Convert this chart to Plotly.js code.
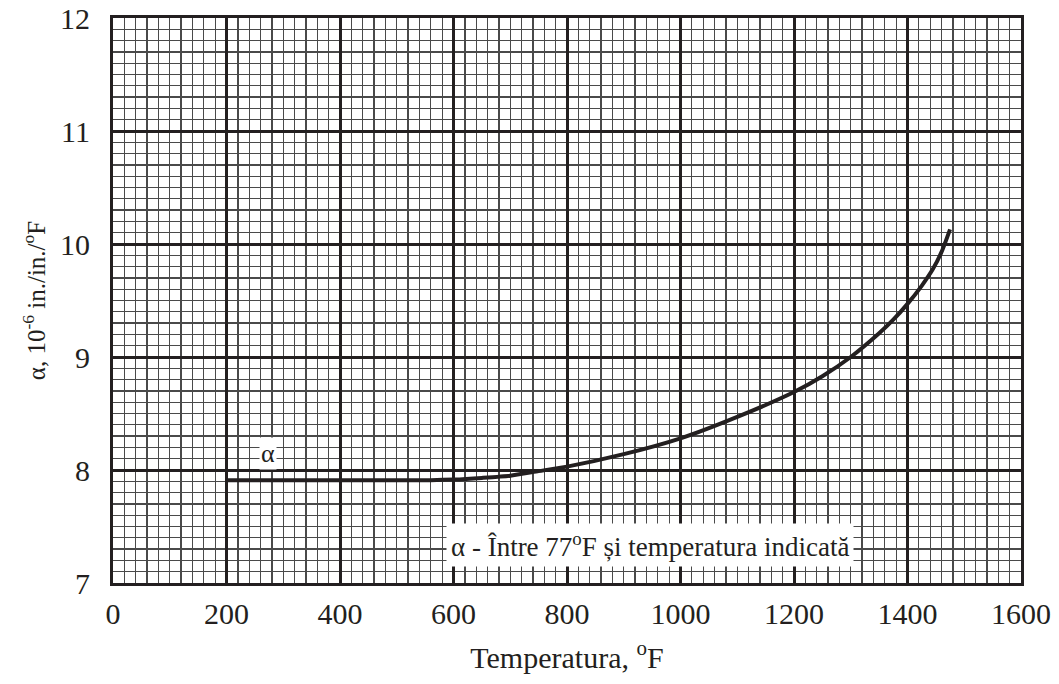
<!DOCTYPE html>
<html>
<head>
<meta charset="utf-8">
<script src="https://cdn.plot.ly/plotly-3.0.1.min.js"></script>
<style>html,body{margin:0;padding:0;background:#fff;}#chart{width:1059px;height:684px;}</style>
</head>
<body>
<div id="chart"></div>
<script>
// Temperature (°F) and mean coefficient of thermal expansion (10^-6 in./in./°F)
const temperature = [200, 300, 400, 500, 560, 600, 650, 700, 750, 800, 900, 1000, 1100, 1200, 1250, 1300, 1350, 1375, 1400, 1425, 1445, 1460, 1475];
const alphaValues = [7.91, 7.91, 7.91, 7.91, 7.91, 7.915, 7.93, 7.95, 7.99, 8.03, 8.14, 8.28, 8.47, 8.69, 8.83, 9.0, 9.21, 9.33, 9.47, 9.63, 9.78, 9.93, 10.13];
const xTicks = [0, 200, 400, 600, 800, 1000, 1200, 1400, 1600];
const yTicks = [7, 8, 9, 10, 11, 12];
const curveLabel = 'α';
const noteText = 'α - Între 77<sup>o</sup>F și temperatura indicată';
const xTitle = 'Temperatura, <sup>o</sup>F';
const yTitle = 'α, 10<sup>-6</sup> in./in./<sup>o</sup>F';

const font = 'Liberation Serif, Times New Roman, serif';
const ink = '#231f20';

const trace = {
  x: temperature, y: alphaValues, type: 'scatter', mode: 'lines',
  line: {color: ink, width: 4, shape: 'spline', smoothing: 0.6},
  hoverinfo: 'skip', showlegend: false
};

const axisCommon = {
  showgrid: true, gridcolor: ink, gridwidth: 3,
  showline: true, linecolor: ink, linewidth: 3, mirror: true,
  zeroline: false, ticks: '',
  tickfont: {family: font, size: 30, color: ink},
  fixedrange: true
};

const layout = {
  width: 1059, height: 684,
  margin: {l: 113, r: 38, t: 18, b: 101},
  paper_bgcolor: '#fff', plot_bgcolor: '#fff',
  font: {family: font, color: ink},
  xaxis: Object.assign({}, axisCommon, {
    range: [0, 1600], tickvals: xTicks, ticktext: xTicks.map(String),
    ticklabelstandoff: 2,
    minor: {dtick: 20, tick0: 0, showgrid: true, gridcolor: '#4a4a4a', gridwidth: 1.3, ticks: ''},
    title: {text: xTitle, font: {family: font, size: 30, color: ink}, standoff: 18}
  }),
  yaxis: Object.assign({}, axisCommon, {
    range: [7, 12], tickvals: yTicks, ticktext: yTicks.map(String),
    ticklabelstandoff: 14,
    minor: {dtick: 0.1, tick0: 7, showgrid: true, gridcolor: '#4a4a4a', gridwidth: 1.3, ticks: ''},
    title: {text: yTitle, font: {family: font, size: 25, color: ink}, standoff: 8}
  }),
  annotations: [
    {x: 273, y: 8.15, xref: 'x', yref: 'y', text: curveLabel, showarrow: false,
     font: {family: font, size: 26, color: ink}, bgcolor: '#fff', borderpad: 1},
    {x: 947, y: 7.34, xref: 'x', yref: 'y', text: noteText, showarrow: false,
     font: {family: font, size: 27, color: ink}, bgcolor: '#fff', borderpad: 4}
  ]
};

Plotly.newPlot('chart', [trace], layout, {staticPlot: true, displayModeBar: false});
</script>
</body>
</html>
